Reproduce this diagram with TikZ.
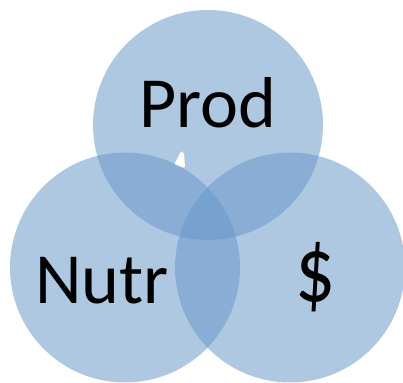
\documentclass[tikz,border=0pt]{standalone}
\usepackage{fontspec}
\setmainfont{Carlito}
\definecolor{vennblue}{RGB}{103,150,200}
\begin{document}
\begin{tikzpicture}[x=1pt,y=-1pt,
  venn/.style={fill=vennblue,fill opacity=0.525,draw=none},
  lbl/.style={font=\fontsize{72}{72}\selectfont,text=black,inner sep=0pt,anchor=base}]
\useasboundingbox (0,0) rectangle (403,382);
% top set
\fill[venn] (208,125) circle (115);
% small white mark
\fill[white,rounded corners=2pt] (174,165) -- (181,151) -- (184,152) -- (185,168) -- cycle;
% lower sets
\fill[venn] (125,267.5) circle (115);
\fill[venn] (290,267.5) circle (115);
\node[lbl] (prod) at (208,128) {Prod};
\node[lbl] (nutr) at (102,303) {Nutr};
\node[lbl,yscale=1.3,xscale=1.1] (money) at (316,301) {\$};
\end{tikzpicture}
\end{document}
